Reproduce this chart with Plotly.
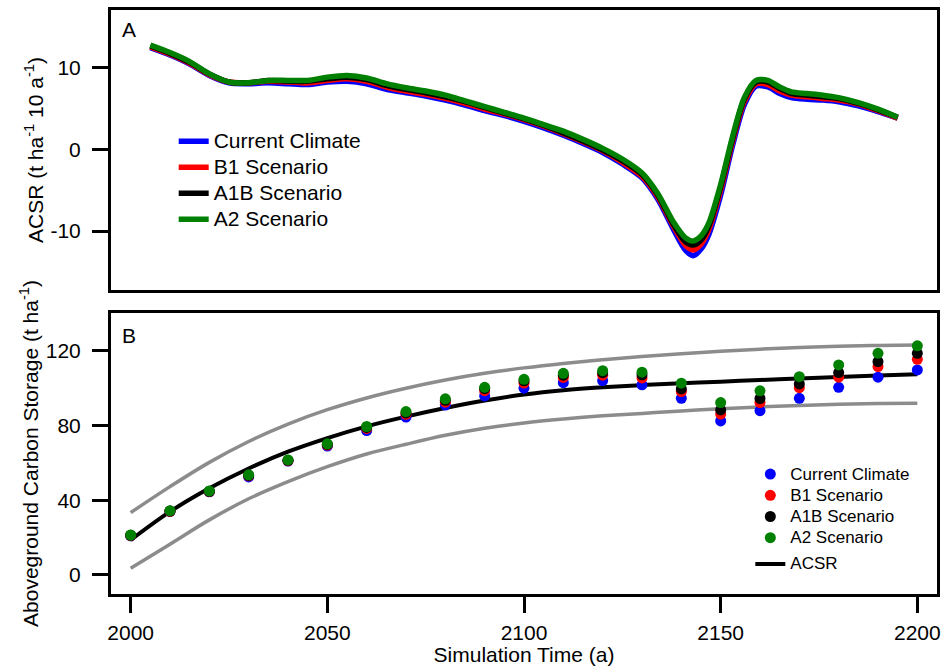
import plotly.graph_objects as go

FONT = "Arial, 'Liberation Sans', sans-serif"

# ---------------- Panel A : ACSR (t ha-1 10 a-1) ----------------
years_a = [2005, 2010, 2015, 2020, 2025, 2030, 2035, 2040, 2045, 2050, 2055, 2060,
           2065, 2070, 2075, 2080, 2085, 2090, 2095, 2100, 2105, 2110, 2115, 2120,
           2125, 2130, 2134, 2138, 2141, 2143, 2145, 2147, 2150, 2153, 2156, 2159,
           2162, 2165, 2168, 2172, 2176, 2180, 2185, 2190, 2195]

acsr_current = [12.4, 11.5, 10.4, 9.0, 8.1, 8.0, 8.1, 8.0, 7.9, 8.2, 8.3, 8.0,
                7.3, 6.9, 6.5, 6.0, 5.4, 4.7, 4.1, 3.4, 2.6, 1.7, 0.7, -0.4,
                -1.8, -3.5, -6.1, -9.8, -12.3, -13.0, -12.2, -10.4, -5.6, 0.4, 5.4, 7.7,
                7.6, 6.8, 6.3, 6.1, 6.0, 5.8, 5.3, 4.6, 3.8]
acsr_b1 = [12.5, 11.6, 10.5, 9.1, 8.2, 8.1, 8.3, 8.2, 8.1, 8.4, 8.6, 8.3,
           7.6, 7.1, 6.7, 6.2, 5.6, 4.9, 4.3, 3.6, 2.8, 1.9, 0.9, -0.2,
           -1.6, -3.3, -5.8, -9.4, -11.7, -12.3, -11.6, -9.8, -5.0, 0.9, 5.8, 8.0,
           7.9, 7.1, 6.6, 6.4, 6.2, 6.0, 5.5, 4.7, 3.8]
acsr_a1b = [12.6, 11.7, 10.6, 9.2, 8.2, 8.1, 8.4, 8.3, 8.3, 8.6, 8.8, 8.5,
            7.8, 7.3, 6.9, 6.4, 5.8, 5.1, 4.4, 3.7, 2.9, 2.0, 1.0, -0.1,
            -1.4, -3.1, -5.6, -9.2, -11.3, -11.7, -11.1, -9.4, -4.6, 1.2, 6.1, 8.2,
            8.2, 7.4, 6.8, 6.6, 6.4, 6.2, 5.6, 4.8, 3.9]
acsr_a2 = [12.7, 11.8, 10.7, 9.2, 8.2, 8.1, 8.4, 8.4, 8.4, 8.8, 9.0, 8.7,
           8.0, 7.5, 7.1, 6.6, 5.9, 5.2, 4.5, 3.8, 3.0, 2.2, 1.2, 0.1,
           -1.2, -2.9, -5.4, -8.9, -10.8, -11.2, -10.6, -9.0, -4.3, 1.5, 6.3, 8.4,
           8.4, 7.6, 7.0, 6.8, 6.6, 6.3, 5.7, 4.9, 3.9]

acsr_ticks = [-10, 0, 10]
acsr_ticktext = ["-10", "0", "10"]

# ---------------- Panel B : Aboveground carbon storage (t ha-1) ----------------
years_b = [2000, 2010, 2020, 2030, 2040, 2050, 2060, 2070, 2080, 2090, 2100,
           2110, 2120, 2130, 2140, 2150, 2160, 2170, 2180, 2190, 2200]

acs_current = [21.0, 34.0, 44.5, 52.5, 61.0, 69.0, 77.3, 84.6, 91.0, 95.9, 100.0,
               103.0, 104.1, 101.8, 94.6, 82.5, 88.0, 94.6, 100.5, 105.9, 109.8]
acs_b1 = [21.1, 34.1, 44.7, 53.1, 61.2, 69.6, 78.5, 86.0, 92.5, 98.7, 102.8,
          105.8, 107.0, 105.5, 98.2, 86.2, 92.3, 100.3, 105.9, 111.6, 115.5]
acs_a1b = [21.2, 34.2, 44.8, 53.3, 61.4, 69.9, 79.0, 86.8, 93.5, 99.8, 104.0,
           107.0, 108.3, 107.2, 99.6, 88.4, 94.5, 102.3, 108.4, 114.3, 118.7]
acs_a2 = [21.4, 34.4, 45.0, 53.6, 61.6, 70.2, 79.5, 87.5, 94.3, 100.5, 104.8,
          108.0, 109.4, 108.6, 102.7, 92.3, 98.6, 106.2, 112.5, 118.7, 122.7]

acsr_fit = [18.7, 33.9, 46.4, 57.0, 66.0, 73.3, 79.6, 84.8, 89.4, 93.4, 96.6,
            98.9, 100.5, 101.7, 102.7, 103.5, 104.4, 105.2, 106.0, 106.8, 107.5]
fit_upper = [33.4, 47.3, 60.3, 71.5, 80.8, 88.5, 94.8, 100.0, 104.4, 108.0, 110.9,
             113.3, 115.3, 117.0, 118.5, 119.8, 120.9, 121.8, 122.5, 122.9, 123.2]
fit_lower = [3.6, 16.5, 29.5, 40.8, 50.0, 58.0, 64.8, 70.0, 74.8, 78.6, 81.4,
             83.5, 85.2, 86.5, 87.8, 89.0, 90.0, 90.8, 91.4, 91.8, 92.0]

time_ticks = [2000, 2050, 2100, 2150, 2200]
acs_ticks = [0, 40, 80, 120]

series_names = ["Current Climate", "B1 Scenario", "A1B Scenario", "A2 Scenario"]
colors = ["#0000ff", "#ff0000", "#000000", "#008000"]


def sized(text, px):
    return f"<span style='font-size:{px}px'>{text}</span>"


fig = go.Figure()

# Panel A lines
for name, vals, col in zip(series_names, [acsr_current, acsr_b1, acsr_a1b, acsr_a2], colors):
    fig.add_trace(go.Scatter(
        x=years_a, y=vals, mode="lines", name=sized(name, 21),
        line=dict(color=col, width=5.5, shape="spline", smoothing=0.8),
        xaxis="x", yaxis="y", legend="legend"))

# Panel B confidence lines and fit
fig.add_trace(go.Scatter(x=years_b, y=fit_upper, mode="lines", showlegend=False,
                         line=dict(color="#8c8c8c", width=3.5, shape="spline"),
                         xaxis="x2", yaxis="y2"))
fig.add_trace(go.Scatter(x=years_b, y=fit_lower, mode="lines", showlegend=False,
                         line=dict(color="#8c8c8c", width=3.5, shape="spline"),
                         xaxis="x2", yaxis="y2"))
fig.add_trace(go.Scatter(x=years_b, y=acsr_fit, mode="lines", name=sized("ACSR", 17),
                         line=dict(color="#000000", width=4, shape="spline"),
                         xaxis="x2", yaxis="y2", legend="legend2",
                         legendgroup="fit", legendrank=2000))

# Panel B points
for name, vals, col in zip(series_names, [acs_current, acs_b1, acs_a1b, acs_a2], colors):
    fig.add_trace(go.Scatter(
        x=years_b, y=vals, mode="markers", name=sized(name, 17),
        marker=dict(color=col, size=11),
        xaxis="x2", yaxis="y2", legend="legend2",
        legendgroup="pts", legendrank=1000))

axis_common = dict(showline=True, linecolor="black", linewidth=3, mirror=True,
                   showgrid=False, zeroline=False,
                   tickfont=dict(family=FONT, size=21, color="black"),
                   tickcolor="black")

fig.update_layout(
    width=946, height=666,
    margin=dict(l=111, r=5, t=10, b=72),
    plot_bgcolor="white", paper_bgcolor="white",
    font=dict(family=FONT, size=21, color="black"),
    xaxis=dict(domain=[0, 1], anchor="y", range=[1995, 2205],
               ticks="", showticklabels=False, **axis_common),
    yaxis=dict(domain=[0.5205, 1], anchor="x", range=[-17.2, 17],
               tickvals=acsr_ticks, ticktext=acsr_ticktext,
               ticks="outside", ticklen=16, tickwidth=3,
               ticklabelstandoff=7,
               title=dict(text="ACSR (t ha<sup>-1</sup> 10 a<sup>-1</sup>)",
                          font=dict(family=FONT, size=21), standoff=2),
               **axis_common),
    xaxis2=dict(domain=[0, 1], anchor="y2", range=[1995, 2205],
                tickvals=time_ticks, ticks="outside",
                ticklen=16, tickwidth=3, ticklabelstandoff=2,
                title=dict(text="Simulation Time (a)", font=dict(family=FONT, size=21),
                           standoff=0),
                **axis_common),
    yaxis2=dict(domain=[0, 0.4812], anchor="x2", range=[-10.2, 140.3],
                tickvals=acs_ticks, ticks="outside", ticklen=16, tickwidth=3,
                ticklabelstandoff=7,
                title=dict(text="Aboveground Carbon Storage (t ha<sup>-1</sup>)",
                           font=dict(family=FONT, size=21), standoff=2),
                **axis_common),
    legend=dict(x=0.0759, y=0.806, xanchor="left", yanchor="top",
                bgcolor="rgba(0,0,0,0)", borderwidth=0,
                font=dict(family=FONT, size=17.7, color="black"),
                tracegroupgap=0),
    legend2=dict(x=0.774, y=0.232, xanchor="left", yanchor="top",
                 bgcolor="rgba(0,0,0,0)", borderwidth=0,
                 font=dict(family=FONT, size=14, color="black"),
                 tracegroupgap=5, traceorder="grouped"),
    annotations=[
        dict(text="A", x=0.011, y=0.966, xref="paper", yref="paper",
             xanchor="left", yanchor="middle", showarrow=False,
             font=dict(family=FONT, size=21, color="black")),
        dict(text="B", x=0.011, y=0.443, xref="paper", yref="paper",
             xanchor="left", yanchor="middle", showarrow=False,
             font=dict(family=FONT, size=21, color="black")),
    ],
)

fig.write_html("out.html", config={"displayModeBar": False},
               post_script="document.body.style.margin='0';document.body.style.overflow='hidden';")
